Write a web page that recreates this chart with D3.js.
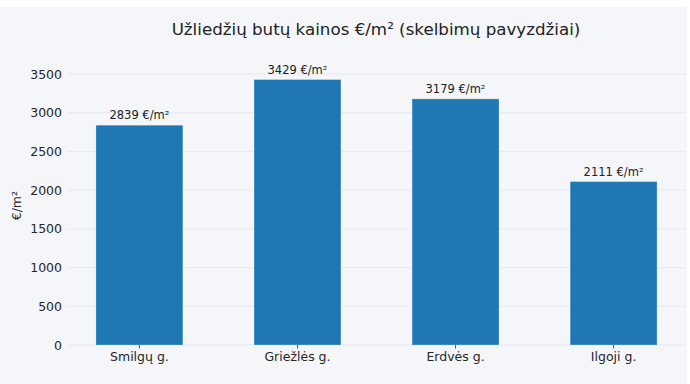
<!DOCTYPE html>
<html>
<head>
<meta charset="utf-8">
<script src="https://cdn.jsdelivr.net/npm/d3@7"></script>
<style>
  html, body { margin: 0; padding: 0; background: #fff; }
  svg { display: block; font-family: "DejaVu Sans", sans-serif; }
</style>
</head>
<body>
<div id="chart"></div>
<script>
const streets = ["Smilgų g.", "Griežlės g.", "Erdvės g.", "Ilgoji g."];
const prices = [2839, 3429, 3179, 2111];
const yTicks = [0, 500, 1000, 1500, 2000, 2500, 3000, 3500];

const width = 690;
const height = 384;
const margin = { top: 66.3, right: 4.5, bottom: 39, left: 67.5 };

const svg = d3
  .select("#chart")
  .append("svg")
  .attr("width", width)
  .attr("height", height);

// figure background (white strip on top / right like the original crop)
svg
  .append("rect")
  .attr("x", 0)
  .attr("y", 7)
  .attr("width", 687)
  .attr("height", height - 7)
  .attr("fill", "#f4f6fa");

const x = d3
  .scaleBand()
  .domain(streets)
  .range([margin.left, width - margin.right])
  .paddingInner(0.45)
  .paddingOuter(0.18);

const y = d3
  .scaleLinear()
  .domain([0, 3600])
  .range([height - margin.bottom, margin.top]);

// grid
svg
  .append("g")
  .attr("class", "grid")
  .selectAll("line")
  .data(yTicks)
  .join("line")
  .attr("x1", margin.left)
  .attr("x2", width - margin.right)
  .attr("y1", (d) => y(d))
  .attr("y2", (d) => y(d))
  .attr("stroke", "#e3e6ec")
  .attr("stroke-width", 0.8);

// bars
svg
  .append("g")
  .selectAll("rect")
  .data(prices)
  .join("rect")
  .attr("x", (d, i) => x(streets[i]))
  .attr("y", (d) => y(d))
  .attr("width", x.bandwidth())
  .attr("height", (d) => y(0) - y(d))
  .attr("fill", "#1f77b4")
  .attr("stroke", "#ffffff")
  .attr("stroke-opacity", 0.35)
  .attr("stroke-width", 0.8);

// value labels
svg
  .append("g")
  .selectAll("text")
  .data(prices)
  .join("text")
  .attr("x", (d, i) => x(streets[i]) + x.bandwidth() / 2)
  .attr("y", (d) => y(d) - 6)
  .attr("text-anchor", "middle")
  .attr("font-size", 11.5)
  .attr("fill", "#222")
  .text((d) => `${d} €/m²`);

// y axis
const yAxis = d3
  .axisLeft(y)
  .tickValues(yTicks)
  .tickSize(0)
  .tickPadding(5.5)
  .tickFormat(d3.format("d"));

svg
  .append("g")
  .attr("transform", `translate(${margin.left},0)`)
  .call(yAxis)
  .call((g) => g.select(".domain").remove())
  .call((g) =>
    g
      .selectAll("text")
      .attr("font-size", 12.5)
      .attr("font-family", "DejaVu Sans, sans-serif")
      .attr("fill", "#262626")
  );

// x axis
const xAxis = d3.axisBottom(x).tickSize(3.5).tickPadding(3.5);

svg
  .append("g")
  .attr("transform", `translate(0,${y(0)})`)
  .call(xAxis)
  .call((g) => g.select(".domain").remove())
  .call((g) => g.selectAll("line").attr("stroke", "#333").attr("stroke-width", 0.8))
  .call((g) =>
    g
      .selectAll("text")
      .attr("font-size", 12.5)
      .attr("font-family", "DejaVu Sans, sans-serif")
      .attr("fill", "#262626")
  );

// y label
svg
  .append("text")
  .attr("transform", `translate(21,${(y(0) + margin.top) / 2}) rotate(-90)`)
  .attr("text-anchor", "middle")
  .attr("font-size", 12.5)
  .attr("fill", "#262626")
  .text("€/m²");

// title
svg
  .append("text")
  .attr("x", 376)
  .attr("y", 35)
  .attr("text-anchor", "middle")
  .attr("font-size", 16.7)
  .attr("fill", "#222")
  .text("Užliedžių butų kainos €/m² (skelbimų pavyzdžiai)");
</script>
</body>
</html>
